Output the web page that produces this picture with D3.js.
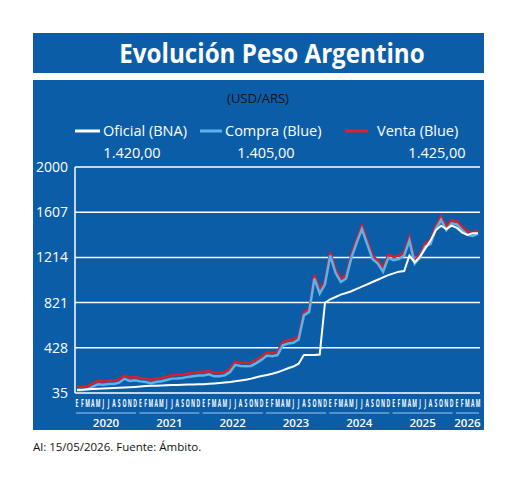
<!DOCTYPE html>
<html><head><meta charset="utf-8">
<script src="https://cdn.jsdelivr.net/npm/d3@7"></script>
<style>body{margin:0;background:#fff}</style></head>
<body><svg id="c" width="520" height="478"></svg>
<script>
const startMonth = "2020-01";
const venta = [78,80,85,110,130,126,133,134,145,178,160,166,
 156,150,141,150,157,168,180,182,186,195,201,208,
 208,218,200,200,208,238,300,290,288,290,315,345,
 380,375,385,470,485,492,520,730,760,1050,920,1000,
 1250,1100,1020,1050,1230,1360,1480,1350,1220,1180,1110,1230,
 1210,1220,1250,1380,1180,1230,1330,1350,1480,1560,1470,1530,
 1520,1470,1430,1420,1440];
const compra = venta.map(v=>v-20);
const oficial = [63,64,67,70,72,74,76,79,80,82,85,88,
 92,95,97,99,101,103,104,105,107,108,109,110,
 112,115,118,122,127,131,137,143,151,160,172,183,
 191,203,215,232,250,265,290,365,365,365,370,820,
 850,870,890,905,920,940,960,980,1000,1020,1040,1060,
 1075,1090,1095,1230,1170,1220,1290,1360,1450,1490,1460,1490,
 1470,1430,1410,1425,1425];
const monthLetters = ["E","F","M","A","M","J","J","A","S","O","N","D"];
const years = ["2020","2021","2022","2023","2024","2025","2026"];
const yTicks = [35,428,821,1214,1607,2000];
const legendNames = ["Oficial (BNA)","Compra (Blue)","Venta (Blue)"];
const legendValues = ["1.420,00","1.405,00","1.425,00"];

const svg = d3.select("#c");
const BLUE = "#0c5da8";
const F = "'Open Sans', Lato, sans-serif";
svg.append("rect").attr("x",33).attr("y",33).attr("width",451).attr("height",40).attr("fill",BLUE);
svg.append("rect").attr("x",33).attr("y",80).attr("width",451).attr("height",350).attr("fill",BLUE);
svg.append("text").attr("x",272).attr("y",63).attr("text-anchor","middle").attr("fill","#fff")
  .attr("font-family",F).attr("font-weight","bold").attr("font-size",26)
  .attr("transform","translate(272,0) scale(0.93,1) translate(-272,0)").text("Evolución Peso Argentino");
svg.append("text").attr("x",258).attr("y",103).attr("text-anchor","middle").attr("fill","#111")
  .attr("font-family",F).attr("font-size",13).text("(USD/ARS)");

const lx=[[75,100,103],[200,222,225],[345,368,377]];
const lcol=["#fff","#5ab4ea","#e0202a"];
legendNames.forEach((n,i)=>{
  svg.append("line").attr("x1",lx[i][0]).attr("x2",lx[i][1]).attr("y1",131).attr("y2",131).attr("stroke",lcol[i]).attr("stroke-width",3);
  svg.append("text").attr("x",lx[i][2]).attr("y",136).attr("fill","#fff").attr("font-family",F).attr("font-size",14.5).text(n);
});
[132,266,437].forEach((x,i)=>svg.append("text").attr("x",x).attr("y",158).attr("text-anchor","middle").attr("fill","#fff").attr("font-family",F).attr("font-size",14.5).text(legendValues[i]));

const n = venta.length;
const x = d3.scaleLinear().domain([0,n-1]).range([77,478]);
const y = d3.scaleLinear().domain([35,2000]).range([393,167]);
const g = svg.append("g");
yTicks.forEach(t=>{
  g.append("line").attr("x1",75).attr("x2",480).attr("y1",y(t)).attr("y2",y(t)).attr("stroke","#fff").attr("stroke-width",1.5);
  g.append("text").attr("x",68).attr("y",y(t)+5).attr("text-anchor","end").attr("fill","#fff").attr("font-family",F).attr("font-size",14).text(t);
});
g.append("line").attr("x1",75).attr("x2",75).attr("y1",167).attr("y2",393).attr("stroke","#fff").attr("stroke-width",1.5);
const line = arr => d3.line().x((d,i)=>x(i)).y(d=>y(d))(arr);
g.append("path").attr("d",line(venta)).attr("fill","none").attr("stroke","#d8202a").attr("stroke-width",2.5).attr("transform","translate(0,-1)");
g.append("path").attr("d",line(compra)).attr("fill","none").attr("stroke","#5ab4ea").attr("stroke-width",2.5);
g.append("path").attr("d",line(oficial)).attr("fill","none").attr("stroke","#fff").attr("stroke-width",2);

for(let i=0;i<n;i++){
  svg.append("text").attr("x",x(i)).attr("y",407).attr("text-anchor","middle").attr("fill","#fff")
    .attr("font-family",F).attr("font-size",10).attr("font-weight","bold").attr("transform",`translate(${x(i)},0) scale(0.5,1) translate(${-x(i)},0)`).text(monthLetters[i%12]);
}
years.forEach((yr,k)=>{
  const a=k*12, b=Math.min(k*12+11,n-1);
  svg.append("line").attr("x1",x(a)-1).attr("x2",x(b)+1).attr("y1",413).attr("y2",413).attr("stroke","#9cc8ef").attr("stroke-width",1);
  svg.append("text").attr("x",(x(a)+x(b))/2).attr("y",427).attr("text-anchor","middle").attr("fill","#fff")
    .attr("font-family",F).attr("font-size",11.5).attr("font-weight","600").text(yr);
});
svg.append("text").attr("x",33).attr("y",451).attr("fill","#111").attr("font-family",F).attr("font-size",11.5).text("Al: 15/05/2026. Fuente: Ámbito.");
</script></body></html>
